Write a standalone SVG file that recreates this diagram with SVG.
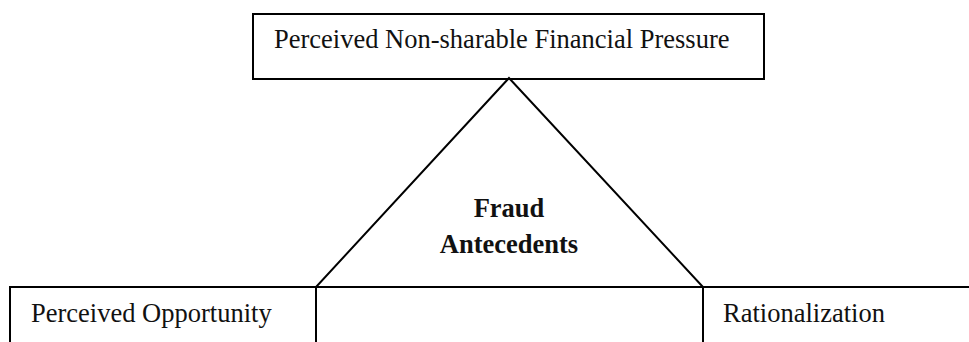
<svg xmlns="http://www.w3.org/2000/svg" width="969" height="342" viewBox="0 0 969 342">
<style>
.ln{fill:none;stroke:#000;stroke-width:2}
.t{font-family:"Liberation Serif","Times New Roman",serif;font-size:26.5px;fill:#111}
.b{font-weight:bold;text-anchor:middle}
</style>
<rect width="969" height="342" fill="#fff"/>
<g id="pressure">
<rect class="ln" x="253" y="14" width="511" height="65"/>
<text class="t" x="274" y="48">Perceived Non-sharable Financial Pressure</text>
</g>
<g id="antecedents">
<polygon class="ln" points="509,78 316,287 703,287"/>
<text class="t b" x="509" y="217">Fraud</text>
<text class="t b" x="509" y="253">Antecedents</text>
</g>
<g id="opportunity">
<path class="ln" d="M10,342 V287 H316 V342"/>
<text class="t" x="31" y="322">Perceived Opportunity</text>
</g>
<g id="rationalization">
<path class="ln" d="M703,342 V287 H969"/>
<text class="t" x="723" y="322">Rationalization</text>
</g>
<g id="connectors"></g>
</svg>
